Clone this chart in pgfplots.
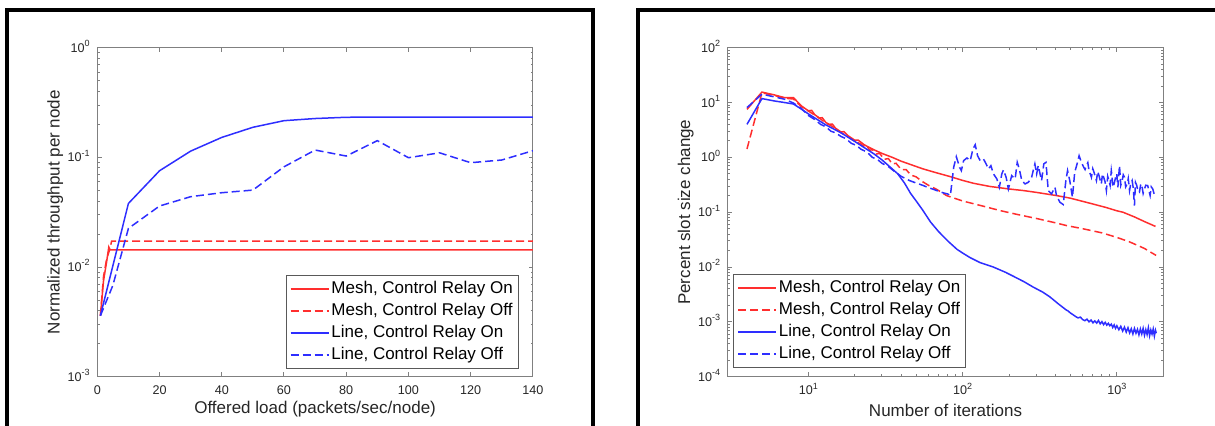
\documentclass[border=0pt]{standalone}
\usepackage{pgfplots}
\pgfplotsset{compat=1.18}
\usepackage{fontspec}
\setmainfont{Liberation Sans}

\definecolor{mred}{rgb}{1,0.18,0.18}
\definecolor{mblue}{rgb}{0.18,0.18,1}
\definecolor{axgray}{rgb}{0.5,0.5,0.5}
\definecolor{txt}{rgb}{0.15,0.15,0.15}

% 10^n tick label in the text font
\newcommand\tk[1]{10\raisebox{0.45em}{\fontsize{4.5}{5}\selectfont #1}}

\pgfplotsset{
  mstyle/.style={
    scale only axis, width=217.8pt, height=164.5pt,
    axis line style={draw=axgray, line width=0.5pt},
    tick style={draw=axgray, line width=0.5pt},
    major tick length=2.2pt, minor tick length=1.2pt,
    tick label style={font=\fontsize{6.3}{7}\selectfont, text=txt},
    xticklabel style={anchor=base, yshift=-9.15pt},
    yticklabel style={anchor=base east, inner sep=0pt, xshift=-3.6pt, yshift=-2.25pt},
    label style={font=\fontsize{8.5}{10}\selectfont, text=txt},
    xlabel style={at={(axis description cs:0.5,0)}, anchor=base},
    ylabel style={at={(axis description cs:-0.0964,0.5)}, anchor=center},
    legend style={font=\fontsize{8.5}{10}\selectfont, draw=black!65, line width=0.5pt,
      inner sep=1.8pt, row sep=1pt,
      nodes={inner sep=1pt, text height=6.3pt, text depth=1.7pt}},
    legend cell align=left,
    legend image code/.code={\draw[##1] (0pt,0pt) -- (19pt,0pt);},
  },
  mon/.style={color=mred, line width=0.75pt},
  moff/.style={color=mred, line width=0.75pt, dash pattern=on 4pt off 2pt},
  lon/.style={color=mblue, line width=0.75pt},
  loff/.style={color=mblue, line width=0.75pt, dash pattern=on 4pt off 2pt},
}

\begin{document}
\begin{tikzpicture}
\useasboundingbox (0,0) rectangle (607.5pt,213pt);

% panel frames
\draw[line width=2pt] (3.5pt,-2pt) -- (3.5pt,207.85pt) -- (296.5pt,207.85pt) -- (296.5pt,-2pt);
\draw[line width=2pt] (319pt,-2pt) -- (319pt,207.85pt) -- (612pt,207.85pt);

% left: throughput vs offered load
\begin{axis}[mstyle,
  at={(48.65pt,24.65pt)}, anchor=south west,
  ymode=log, xmin=0, xmax=140, ymin=1e-3, ymax=1,
  xtick={0,20,...,140},
  /pgf/number format/assume math mode=true,
  ytick={1e-3,1e-2,1e-1,1},
  yticklabels={\tk{-3},\tk{-2},\tk{-1},\tk{0}},
  xlabel={Offered load (packets/sec/node)},
  xlabel style={yshift=-18.65pt},
  ylabel={Normalized throughput per node},
  legend style={at={(0.968,0.0234)}, anchor=south east},
]
\addplot[mon] coordinates {(1,0.0036) (2,0.0075) (3,0.0112) (3.7,0.0152) (4.1,0.0143) (140,0.0143)};
\addlegendentry{Mesh, Control Relay On}
\addplot[moff] coordinates {(1,0.0036) (2,0.0082) (3,0.0118) (4,0.0145) (4.6,0.0172) (140,0.0172)};
\addlegendentry{Mesh, Control Relay Off}
\addplot[lon] coordinates {(1,0.0036) (10,0.038) (20,0.0755) (30,0.114) (40,0.152) (50,0.188)
  (60,0.216) (70,0.226) (80,0.232) (90,0.233) (100,0.233) (110,0.233) (120,0.233) (130,0.233) (140,0.233)};
\addlegendentry{Line, Control Relay On}
\addplot[loff] coordinates {(1,0.0036) (5,0.0068) (10,0.0225) (20,0.036) (30,0.0438) (40,0.0476)
  (50,0.0503) (60,0.082) (70,0.1166) (80,0.1028) (90,0.142) (100,0.0993) (110,0.110)
  (120,0.0894) (130,0.0946) (140,0.115)};
\addlegendentry{Line, Control Relay Off}
\end{axis}

% right: slot size change vs iterations
\begin{axis}[mstyle,
  at={(363.85pt,24.65pt)}, anchor=south west,
  xmode=log, ymode=log, xmin=3, xmax=2000, ymin=1e-4, ymax=100,
  xtick={10,100,1000},
  xticklabels={\tk{1},\tk{2},\tk{3}},
  ytick={1e-4,1e-3,1e-2,1e-1,1,10,100},
  yticklabels={\tk{-4},\tk{-3},\tk{-2},\tk{-1},\tk{0},\tk{1},\tk{2}},
  xlabel={Number of iterations},
  xlabel style={yshift=-20pt},
  ylabel={Percent slot size change},
  legend style={at={(0.013,0.0255)}, anchor=south west},
]
\addplot[mon] coordinates {
  (4,7.5) (5,15.5) (6,13.8) (7,12.3) (8,12.3) (9,8.7) (10,7.06) (10.5,7.2) (11,6.0)
  (11.8,5.2) (12.3,5.3) (13,4.3) (13.7,4.0) (14.3,4.05) (15,3.4) (16.3,2.9) (17,2.95)
  (18,2.5) (20,2.05) (21,2.07) (23,1.7) (25,1.5) (27,1.35) (30,1.18) (35,1.0) (40,0.85)
  (46,0.74) (55,0.62) (65,0.54) (83,0.446) (100,0.38) (118,0.336) (150,0.295) (200,0.265)
  (248,0.248) (300,0.23) (406,0.201) (500,0.18) (667,0.146) (850,0.122) (1000,0.106)
  (1094,0.1) (1300,0.082) (1500,0.068) (1780,0.055)};
\addlegendentry{Mesh, Control Relay On}
\addplot[moff] coordinates {
  (4,1.42) (5,15) (6,13.5) (7,12) (8,11.6) (9,8.4) (10,7.0) (11,5.9) (12,5.0) (13,4.2)
  (14,3.8) (15,3.3) (16.3,2.8) (18,2.4) (20,1.95) (22,1.75) (23,1.55) (24,1.6) (25,1.35)
  (26,1.38) (27.5,1.15) (29,1.18) (31,0.92) (33,0.95) (35,0.76) (37,0.78) (40,0.6)
  (43,0.6) (46,0.48) (50,0.44) (55,0.36) (60,0.31) (68,0.26) (79,0.2) (100,0.16)
  (130,0.133) (175,0.107) (230,0.09) (300,0.077) (400,0.064) (472,0.057) (600,0.05)
  (800,0.042) (990,0.035) (1200,0.029) (1500,0.022) (1795,0.0163)};
\addlegendentry{Mesh, Control Relay Off}
\addplot[lon] coordinates {
  (4,4.0) (5,11.8) (6,10.7) (7,10.0) (8,9.4) (9,7.6) (10,6.2) (13,3.9) (16.3,2.8) (20,1.95)
  (26.7,1.15) (30,0.9) (34,0.66) (38,0.5) (42,0.34) (46,0.22) (50,0.16) (55,0.11)
  (62,0.066) (70,0.044) (80,0.03) (92,0.021) (100,0.018) (112,0.0148) (130,0.012)
  (158,0.0100) (190,0.0080) (213,0.0068) (250,0.0054) (287,0.0043) (330,0.0035)
  (368,0.00285) (420,0.0021) (472,0.00163) (480,0.0016) (500,0.00145) (520,0.00135)
  (540,0.00125) (560,0.00118) (580,0.00122) (600,0.0011) (620,0.00105) (640,0.00112)
  (660,0.001) (680,0.00108) (700,0.00096) (720,0.00104) (740,0.00095) (760,0.00106)
  (780,0.00092) (800,0.00101) (820,0.00089) (840,0.00098) (860,0.00087) (880,0.00094)
  (900,0.00085) (920,0.00091) (940,0.00079) (960,0.00088) (980,0.00076) (1000,0.00085)
  (1030,0.00072) (1060,0.00083) (1090,0.00068) (1120,0.0008) (1150,0.00065) (1180,0.00078)
  (1210,0.00063) (1240,0.00075) (1270,0.0006) (1300,0.00076) (1330,0.00062) (1360,0.00073)
  (1390,0.00058) (1420,0.00074) (1450,0.0006) (1480,0.00076) (1510,0.00057) (1540,0.00072)
  (1570,0.00059) (1600,0.00078) (1630,0.00056) (1660,0.00071) (1690,0.0006) (1720,0.00074)
  (1750,0.00055) (1780,0.0007) (1800,0.00062)};
\addlegendentry{Line, Control Relay On}
\addplot[loff] coordinates {
  (4,8.1) (5,14.2) (6,12.7) (7,11.5) (8,9.8) (9,7.8) (10,5.8) (11,4.9) (12,4.0) (13,3.6)
  (14,3.0) (15,2.8) (16.3,2.4) (17.5,2.2) (19,1.8) (20.5,1.65) (22,1.4) (24,1.25) (26,1.0)
  (28,0.92) (30,0.78) (33,0.68) (36,0.56) (40,0.45) (45,0.38) (50,0.34) (55,0.31) (60,0.28)
  (65,0.26) (70,0.24) (75,0.225) (80,0.215) (83.3,0.201) (87.5,0.658) (91,1.03) (95.6,0.658)
  (98.1,0.573) (101.5,0.871) (106.6,0.975) (112,0.871) (116.7,1.42) (120.7,1.70) (125,1.07)
  (130,0.871) (136.5,0.935) (142,0.759) (147,0.615) (152.5,0.706) (158.5,0.499) (166.7,0.405)
  (173,0.285) (179.5,0.499) (184,0.59) (191.5,0.433) (198,0.266) (208,0.464) (219,0.405)
  (226,0.811) (233,0.615) (242,0.377) (254,0.328) (267,0.352) (280,0.433) (294,0.759)
  (302,0.499) (309,0.706) (325,0.377) (336,0.759) (347,0.811) (359,0.248) (377,0.216)
  (397,0.285) (406,0.201) (427,0.152) (449,0.138) (467,0.377) (479,0.573) (495,0.377)
  (515,0.1875) (533,0.534) (552,0.759) (569,1.07) (589,0.811) (610,0.658) (622,0.6)
  (635,0.706) (648,0.8) (660,0.573) (672,0.5) (684,0.433) (698,0.62) (711,0.534) (724,0.45)
  (737,0.377) (751,0.55) (766,0.464) (780,0.38) (793,0.328) (807,0.5) (821,0.433) (838,0.36)
  (855,0.248) (872,0.45) (888,0.377) (904,0.31) (920,0.573) (930,0.45) (942,0.285) (960,0.33)
  (981,0.433) (998,0.5) (1015,0.285) (1025,0.42) (1040,0.706) (1060,0.31) (1083,0.377)
  (1100,0.48) (1121,0.433) (1140,0.29) (1167,0.328) (1185,0.41) (1208,0.248) (1230,0.33)
  (1256,0.377) (1278,0.27) (1300,0.132) (1320,0.35) (1346,0.306) (1370,0.24) (1400,0.231)
  (1430,0.33) (1458,0.285) (1480,0.22) (1509,0.266) (1540,0.31) (1585,0.306) (1610,0.25)
  (1643,0.201) (1670,0.29) (1708,0.266) (1740,0.22) (1778,0.1875)};
\addlegendentry{Line, Control Relay Off}
\end{axis}
\end{tikzpicture}
\end{document}
